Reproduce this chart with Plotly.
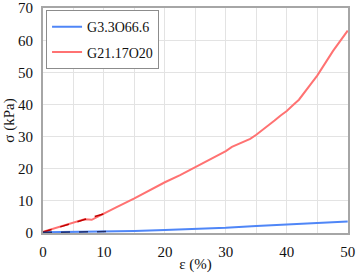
import plotly.graph_objects as go

# Strain (%) and stress (kPa)
eps_red = [0, 2, 4, 6, 6.8, 7.5, 8, 9, 10, 12, 15, 20, 22.5, 25, 27.5, 30, 31, 33, 34, 35, 36, 38, 39, 40, 41, 42, 44, 45, 47.6, 50]
sig_red = [0.4, 1.6, 2.8, 3.9, 4.3, 4.2, 4.1, 5.1, 6.1, 8.0, 10.8, 15.8, 18.0, 20.5, 22.9, 25.5, 26.8, 28.4, 29.3, 30.6, 32.0, 35.0, 36.6, 38.0, 39.8, 41.5, 46.5, 49.0, 56.7, 63.0]

eps_blue = [0, 5, 10, 15, 20, 25, 30, 35, 40, 45, 50]
sig_blue = [0.2, 0.3, 0.45, 0.65, 0.9, 1.2, 1.6, 2.2, 2.7, 3.1, 3.6]

# Linear fit segments (dashed) over the initial region
eps_fit_red = [0, 10]
sig_fit_red = [0.3, 6.0]
eps_fit_blue = [0, 11]
sig_fit_blue = [0.2, 0.45]

names = ["G3.3O66.6", "G21.17O20"]

fig = go.Figure()
fig.add_trace(go.Scatter(x=eps_blue, y=sig_blue, mode="lines", name=names[0], legendgroup="a",
                         line=dict(color="#4f86f7", width=2)))
fig.add_trace(go.Scatter(x=eps_red, y=sig_red, mode="lines", name=names[1], legendgroup="b",
                         line=dict(color="#ff7272", width=2)))
fig.add_trace(go.Scatter(x=eps_fit_red, y=sig_fit_red, mode="lines", showlegend=False,
                         line=dict(color="#c00000", width=1.5, dash="dash")))
fig.add_trace(go.Scatter(x=eps_fit_blue, y=sig_fit_blue, mode="lines", showlegend=False,
                         line=dict(color="#1f2f6f", width=1.5, dash="dash")))

fam = "'Liberation Serif', 'Times New Roman', serif"
font = dict(family=fam, size=15, color="#111111")
fig.update_layout(
    template="none",
    width=357, height=273,
    margin=dict(l=43, r=9, t=8, b=40),
    paper_bgcolor="white", plot_bgcolor="white",
    font=font,
    showlegend=True,
    legend=dict(x=0.01, y=0.99, xanchor="left", yanchor="top",
                bordercolor="#8c8c8c", borderwidth=1, bgcolor="white",
                font=dict(family=fam, size=14, color="#111111"),
                itemwidth=30, tracegroupgap=4),
    xaxis=dict(range=[0, 50.05], dtick=10, tick0=0, showgrid=True, gridcolor="#e3e3e3",
               minor=dict(dtick=5, showgrid=True, gridcolor="#e3e3e3"),
               showline=True, linecolor="#a6a6a6", linewidth=2, mirror=True,
               ticks="", zeroline=False, automargin=False, ticklabelstandoff=4,
               ticklabeloverflow="allow",
               tickfont=font,
               title=dict(text="ε (%)", standoff=2, font=font)),
    yaxis=dict(range=[0, 70.05], dtick=10, tick0=0, showgrid=True, gridcolor="#e3e3e3",
               showline=True, linecolor="#a6a6a6", linewidth=2, mirror=True,
               ticks="", zeroline=False, automargin=False, ticklabelstandoff=5,
               ticklabeloverflow="allow",
               tickfont=font,
               title=dict(text="σ (kPa)", standoff=0, font=font)),
)

fig.write_html("out.html", config={"displayModeBar": False},
               post_script="document.body.style.margin='0';document.body.style.padding='0';")
